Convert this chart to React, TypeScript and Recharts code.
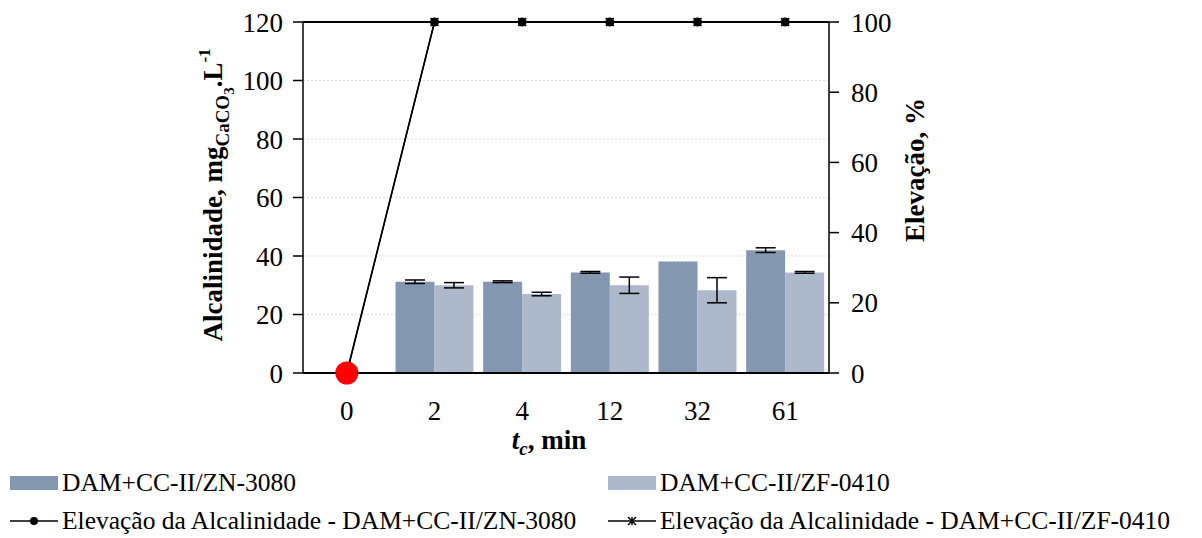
import React from 'react';
import {
  ComposedChart,
  Bar,
  Line,
  XAxis,
  YAxis,
  CartesianGrid,
  ErrorBar,
  Legend,
  ReferenceLine,
} from 'recharts';

const times = ['0', '2', '4', '12', '32', '61'];
const alcZN = [null, 31.2, 31.2, 34.4, 38.1, 42];
const errZN = [0, 0.6, 0.3, 0.3, 0, 0.8];
const alcZF = [null, 30, 27, 30, 28.3, 34.4];
const errZF = [0, 0.9, 0.6, 2.8, 4.3, 0.3];
const elevZN = [0, 100, 100, 100, 100, 100];
const elevZF = [0, 100, 100, 100, 100, 100];

const leftTicks = [0, 20, 40, 60, 80, 100, 120];
const rightTicks = [0, 20, 40, 60, 80, 100];

const FONT = "'Times New Roman'";
const ZN_COLOR = '#8497b0';
const ZF_COLOR = '#adb9ca';

const data = times.map((t, i) => ({
  t,
  zn: alcZN[i],
  znErr: errZN[i],
  zf: alcZF[i],
  zfErr: errZF[i],
  elevZN: elevZN[i],
  elevZF: elevZF[i],
}));

const CircleDot = (props: any) => {
  const { cx, cy, index } = props;
  if (cx == null || cy == null) return null;
  if (index === 0) {
    return <circle key={`c${index}`} cx={cx} cy={cy} r={11.5} fill="#ff0000" />;
  }
  return <circle key={`c${index}`} cx={cx} cy={cy} r={4.5} fill="#000" />;
};

const StarDot = (props: any) => {
  const { cx, cy, index } = props;
  if (cx == null || cy == null) return null;
  const s = 4;
  return (
    <g key={`s${index}`} stroke="#000" strokeWidth={1.5}>
      <line x1={cx - s} y1={cy - s} x2={cx + s} y2={cy + s} />
      <line x1={cx - s} y1={cy + s} x2={cx + s} y2={cy - s} />
      <line x1={cx} y1={cy - s} x2={cx} y2={cy + s} />
    </g>
  );
};

const legendItems = [
  { key: 'zn', label: 'DAM+CC-II/ZN-3080', kind: 'bar', color: ZN_COLOR, x: 10, y: 0 },
  { key: 'zf', label: 'DAM+CC-II/ZF-0410', kind: 'bar', color: ZF_COLOR, x: 608, y: 0 },
  { key: 'elevZN', label: 'Elevação da Alcalinidade - DAM+CC-II/ZN-3080', kind: 'circle', color: '#000', x: 10, y: 38 },
  { key: 'elevZF', label: 'Elevação da Alcalinidade - DAM+CC-II/ZF-0410', kind: 'star', color: '#000', x: 608, y: 38 },
];

const renderLegend = () => (
  <div style={{ position: 'relative', width: 1202, height: 70, fontFamily: FONT, fontSize: 25.5, color: '#000' }}>
    {legendItems.map((it) => (
      <div
        key={it.key}
        style={{ position: 'absolute', left: it.x, top: it.y, height: 30, display: 'flex', alignItems: 'center', whiteSpace: 'nowrap' }}
      >
        <svg width={50} height={30} style={{ marginRight: 2 }}>
          {it.kind === 'bar' ? (
            <rect x={0} y={8} width={48} height={14} fill={it.color} />
          ) : (
            <g>
              <line x1={0} y1={15} x2={48} y2={15} stroke="#000" strokeWidth={1.5} />
              {it.kind === 'circle' ? (
                <circle cx={24} cy={15} r={4} fill="#000" />
              ) : (
                <g stroke="#000" strokeWidth={1.5}>
                  <line x1={20} y1={11} x2={28} y2={19} />
                  <line x1={20} y1={19} x2={28} y2={11} />
                  <line x1={24} y1={11} x2={24} y2={19} />
                </g>
              )}
            </g>
          )}
        </svg>
        <span>{it.label}</span>
      </div>
    ))}
  </div>
);

const LeftTitle = () => (
  <text
    x={0}
    y={0}
    transform="translate(222, 195) rotate(-90)"
    textAnchor="middle"
    fontFamily={FONT}
    fontWeight="bold"
    fontSize={27}
    fill="#000"
  >
    Alcalinidade, mg
    <tspan fontSize={19} dy={7}>CaCO</tspan>
    <tspan fontSize={15} dy={5}>3</tspan>
    <tspan fontSize={27} dy={-12}>.L</tspan>
    <tspan fontSize={17} dy={-12}>-1</tspan>
  </text>
);

const RightTitle = () => (
  <text
    x={0}
    y={0}
    transform="translate(924, 170) rotate(-90)"
    textAnchor="middle"
    fontFamily={FONT}
    fontWeight="bold"
    fontSize={27}
    fill="#000"
  >
    Elevação, %
  </text>
);

const BottomTitle = () => (
  <text x={549} y={449} textAnchor="middle" fontFamily={FONT} fontWeight="bold" fontSize={27} fill="#000">
    <tspan fontStyle="italic">t</tspan>
    <tspan fontStyle="italic" fontSize={19} dy={6}>c</tspan>
    <tspan dy={-6}>, min</tspan>
  </text>
);

const tickStyle = { fontFamily: FONT, fontSize: 27, fill: '#000' };

export default function App() {
  return (
    <div style={{ position: 'absolute', left: 0, top: 0, width: 1202, height: 538, background: '#fff', fontFamily: FONT }}>
      <ComposedChart
        width={1202}
        height={538}
        data={data}
        margin={{ top: 22, right: 270, bottom: 105, left: 200 }}
        barCategoryGap="5.5%"
        barGap={0}
      >
        <CartesianGrid yAxisId="left" vertical={false} stroke="#d9d9d9" strokeDasharray="2 2" />
        <XAxis
          dataKey="t"
          height={60}
          tickLine={false}
          axisLine={{ stroke: '#000', strokeWidth: 2 }}
          tick={tickStyle}
          tickMargin={22}
          label={{ content: () => <BottomTitle /> }}
        />
        <YAxis
          yAxisId="left"
          width={103}
          domain={[0, 120]}
          ticks={leftTicks}
          tickSize={10}
          tickMargin={10}
          axisLine={{ stroke: '#000', strokeWidth: 1.5 }}
          tickLine={{ stroke: '#000', strokeWidth: 1.5 }}
          tick={tickStyle}
          label={{ content: () => <LeftTitle /> }}
        />
        <YAxis
          yAxisId="right"
          orientation="right"
          width={103}
          domain={[0, 100]}
          ticks={rightTicks}
          tickSize={10}
          tickMargin={12}
          axisLine={{ stroke: '#000', strokeWidth: 1.5 }}
          tickLine={{ stroke: '#000', strokeWidth: 1.5 }}
          tick={tickStyle}
          label={{ content: () => <RightTitle /> }}
        />
        <ReferenceLine yAxisId="left" y={120} stroke="#000" strokeWidth={2} />
        <Bar yAxisId="left" dataKey="zn" name="DAM+CC-II/ZN-3080" fill={ZN_COLOR} isAnimationActive={false}>
          <ErrorBar dataKey="znErr" width={10} stroke="#000" strokeWidth={1.5} />
        </Bar>
        <Bar yAxisId="left" dataKey="zf" name="DAM+CC-II/ZF-0410" fill={ZF_COLOR} isAnimationActive={false}>
          <ErrorBar dataKey="zfErr" width={10} stroke="#000" strokeWidth={1.5} />
        </Bar>
        <Line
          yAxisId="right"
          type="linear"
          dataKey="elevZF"
          name="Elevação da Alcalinidade - DAM+CC-II/ZF-0410"
          stroke="#000"
          strokeWidth={1.5}
          dot={StarDot}
          isAnimationActive={false}
        />
        <Line
          yAxisId="right"
          type="linear"
          dataKey="elevZN"
          name="Elevação da Alcalinidade - DAM+CC-II/ZN-3080"
          stroke="#000"
          strokeWidth={1.5}
          dot={CircleDot}
          isAnimationActive={false}
        />
        <Legend
          layout="horizontal"
          verticalAlign="middle"
          align="center"
          content={renderLegend}
          wrapperStyle={{ position: 'absolute', top: 468, left: 0, width: 1202, height: 70 }}
        />
      </ComposedChart>
    </div>
  );
}
